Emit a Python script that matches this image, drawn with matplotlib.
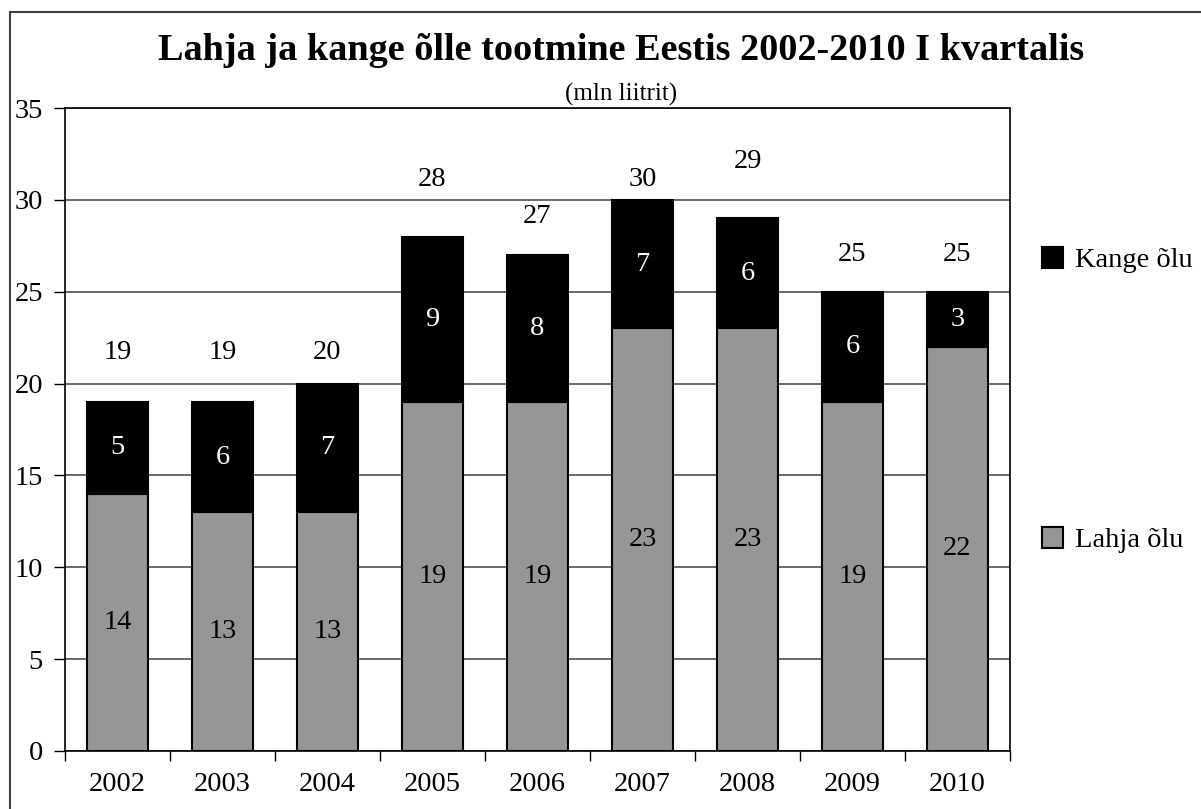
import matplotlib
matplotlib.use("Agg")
import matplotlib.pyplot as plt
from matplotlib.patches import Rectangle
import numpy as np

years = ["2002", "2003", "2004", "2005", "2006", "2007", "2008", "2009", "2010"]
lahja = [14, 13, 13, 19, 19, 23, 23, 19, 22]
kange = [5, 6, 7, 9, 8, 7, 6, 6, 3]
totals = [19, 19, 20, 28, 27, 30, 29, 25, 25]

# vertical gap between bar top and the total label (data units), as in the original
total_pad = [2.7, 2.7, 1.7, 3.1, 2.1, 1.1, 3.1, 2.0, 2.0]

plt.rcParams["font.family"] = ["Liberation Serif", "DejaVu Serif"]

fig = plt.figure(figsize=(12.01, 8.09), dpi=100)
ax = fig.add_axes([65 / 1201, 1 - 751 / 809, 945 / 1201, 643 / 809])

x = np.arange(len(years))
w = 0.58
fs = 20.5
lahja_color = "#969696"
ax.bar(x, lahja, width=w, color=lahja_color, edgecolor="black", linewidth=1.5, zorder=3,
       label="Lahja õlu")
ax.bar(x, kange, width=w, bottom=lahja, color="black", edgecolor="black", linewidth=1.5,
       zorder=3, label="Kange õlu")

for i in range(len(years)):
    ax.text(x[i], lahja[i] / 2, str(lahja[i]), ha="center", va="center", fontsize=fs,
            color="black", zorder=4)
    ax.text(x[i], lahja[i] + kange[i] / 2, str(kange[i]), ha="center", va="center",
            fontsize=fs, color="white", zorder=4)
    ax.text(x[i], totals[i] + total_pad[i], str(totals[i]), ha="center", va="center",
            fontsize=fs, color="black", zorder=4)

ax.set_xlim(-0.5, len(years) - 0.5)
ax.set_ylim(0, 35)
ax.set_yticks(range(0, 36, 5))
ax.yaxis.grid(True, color="#505050", linewidth=1.2, zorder=0)
ax.set_xticks(x)
ax.set_xticklabels(years)
ax.set_xticks(np.arange(-0.5, len(years), 1), minor=True)
ax.tick_params(axis="x", which="major", length=0, pad=15, labelsize=fs)
ax.tick_params(axis="x", which="minor", length=7, width=1, direction="out")
ax.tick_params(axis="y", length=8, width=1, direction="out", labelsize=fs, pad=8)
for s in ax.spines.values():
    s.set_color("black")
    s.set_linewidth(1.2)

fig.text(621 / 1201, 1 - 50 / 809, "Lahja ja kange õlle tootmine Eestis 2002-2010 I kvartalis",
         ha="center", va="center", fontsize=27.5, fontweight="bold")
fig.text(621 / 1201, 1 - 94 / 809, "(mln liitrit)", ha="center", va="center", fontsize=18)

handles, labels = ax.get_legend_handles_labels()
fig.legend(handles[::-1], labels[::-1], loc="upper left",
           bbox_to_anchor=(1042 / 1201, 1 - 247 / 809), frameon=False, fontsize=fs,
           handlelength=0.75, handleheight=0.75, handletextpad=0.4, labelspacing=8.9,
           borderaxespad=0, borderpad=0)

fig.patches.append(Rectangle((10 / 1201, -0.1), 1.2, 1 - 12 / 809 + 0.1,
                             transform=fig.transFigure, fill=False,
                             edgecolor="#404040", linewidth=1.5))

fig.savefig("out.png", dpi=100)
